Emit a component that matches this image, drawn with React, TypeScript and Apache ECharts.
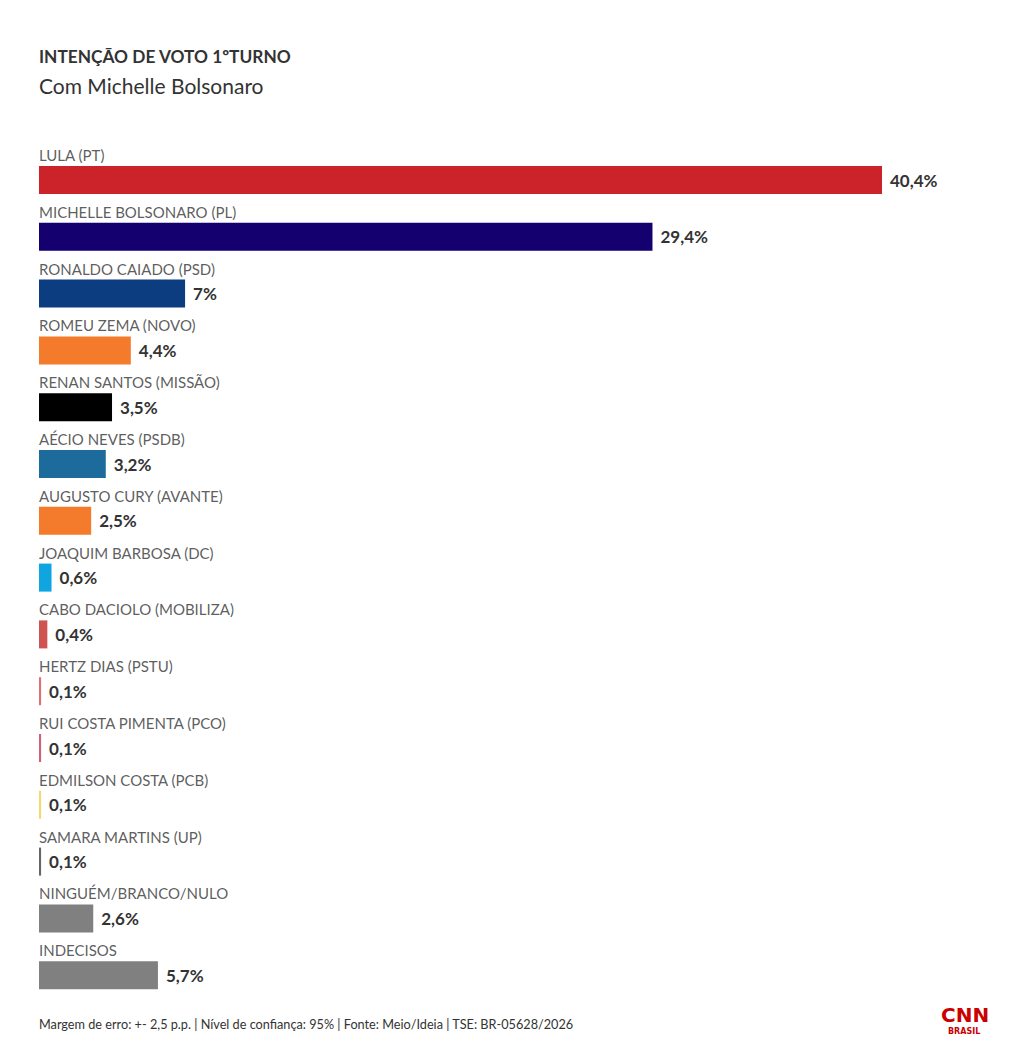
import React, { useEffect, useRef } from "react";
import * as echarts from "echarts";

const categories = [
  "LULA (PT)",
  "MICHELLE BOLSONARO (PL)",
  "RONALDO CAIADO (PSD)",
  "ROMEU ZEMA (NOVO)",
  "RENAN SANTOS (MISSÃO)",
  "AÉCIO NEVES (PSDB)",
  "AUGUSTO CURY (AVANTE)",
  "JOAQUIM BARBOSA (DC)",
  "CABO DACIOLO (MOBILIZA)",
  "HERTZ DIAS (PSTU)",
  "RUI COSTA PIMENTA (PCO)",
  "EDMILSON COSTA (PCB)",
  "SAMARA MARTINS (UP)",
  "NINGUÉM/BRANCO/NULO",
  "INDECISOS",
];
const values = [40.4, 29.4, 7, 4.4, 3.5, 3.2, 2.5, 0.6, 0.4, 0.1, 0.1, 0.1, 0.1, 2.6, 5.7];
const colors = [
  "#cc2229",
  "#150070",
  "#0b3d80",
  "#f47a2c",
  "#000000",
  "#1d6b9c",
  "#f47a2c",
  "#0ea5e0",
  "#d05353",
  "#e07070",
  "#d0607a",
  "#f5d76e",
  "#666666",
  "#808080",
  "#808080",
];

const FONT = "Lato";

export default function App() {
  const ref = useRef<HTMLDivElement>(null);
  useEffect(() => {
    const chart = echarts.init(ref.current!, null, { renderer: "svg" });
    chart.setOption({
      animation: false,
      backgroundColor: "#ffffff",
      textStyle: { fontFamily: FONT },
      grid: { left: 39, right: 42, top: 151.6, height: 852, containLabel: false },
      xAxis: { type: "value", min: 0, max: 45, show: false },
      yAxis: {
        type: "category",
        data: categories,
        inverse: true,
        axisLine: { show: false },
        axisTick: { show: false },
        axisLabel: { show: false },
      },
      series: [
        {
          type: "bar",
          barWidth: 28,
          data: values.map((v, i) => ({ value: v, itemStyle: { color: colors[i] } })),
          label: {
            show: true,
            position: "right",
            distance: 8,
            color: "#333333",
            fontWeight: "bold",
            fontSize: 17,
            fontFamily: FONT,
            formatter: (p: any) => String(p.value).replace(".", ",") + "%",
          },
        },
        {
          type: "scatter",
          symbolSize: 0,
          silent: true,
          data: categories.map((c) => [0, c]),
          label: {
            show: true,
            position: "right",
            distance: 0,
            offset: [0, -25],
            color: "#333333",
            fontSize: 15,
            fontFamily: FONT,
            formatter: (p: any) => p.value[1],
          },
        },
      ],
      graphic: [
        {
          type: "text",
          left: 39,
          top: 48,
          style: { text: "INTENÇÃO DE VOTO 1ºTURNO", fontSize: 17.3, fontWeight: "bold", fill: "#333333", fontFamily: FONT },
        },
        {
          type: "text",
          left: 39,
          top: 75,
          style: { text: "Com Michelle Bolsonaro", fontSize: 21, fill: "#333333", fontFamily: FONT },
        },
        {
          type: "text",
          left: 39,
          top: 1017,
          style: {
            text: "Margem de erro: +- 2,5 p.p. | Nível de confiança: 95% | Fonte: Meio/Ideia | TSE: BR-05628/2026",
            fontSize: 12.7,
            fill: "#333333",
            fontFamily: FONT,
          },
        },
        {
          type: "text",
          left: 941,
          top: 1005,
          style: { text: "CNN", fontSize: 20, fontWeight: "bold", fill: "#cc0000", fontFamily: "DejaVu Sans" },
        },
        {
          type: "text",
          left: 948,
          top: 1027,
          style: { text: "BRASIL", fontSize: 8, fontWeight: "bold", fill: "#cc0000", fontFamily: "DejaVu Sans" },
        },
      ],
    });
    return () => chart.dispose();
  }, []);
  return (
    <div
      ref={ref}
      style={{ position: "absolute", left: 0, top: 0, width: 1020, height: 1051 }}
    />
  );
}
